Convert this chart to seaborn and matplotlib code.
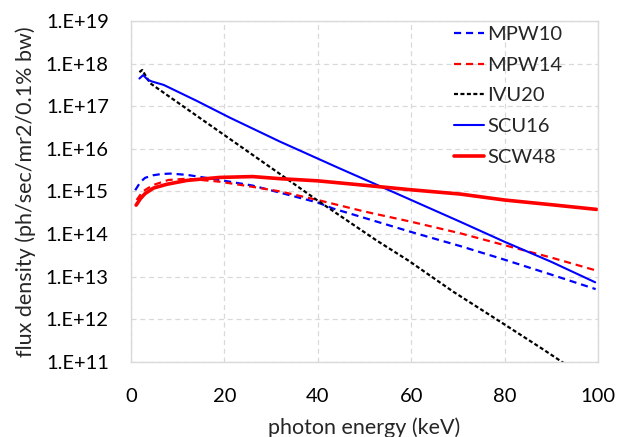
import numpy as np
import pandas as pd
import matplotlib
matplotlib.use("Agg")
import matplotlib.pyplot as plt
import seaborn as sns
from matplotlib.ticker import FixedLocator, FixedFormatter

# ---- data (log10 of flux density) ----
mpw10_e = [0.9, 2, 3, 4.7, 6.5, 8.4, 12, 19, 26, 32, 40, 43.3, 50, 60, 70.5, 80, 90, 99.5]
mpw10_log = [15.03, 15.22, 15.32, 15.38, 15.41, 15.42, 15.39, 15.27, 15.14, 14.97, 14.74, 14.60, 14.38, 14.05, 13.72, 13.40, 13.05, 12.71]

mpw14_e = [1.2, 2.5, 4.7, 8, 12, 19, 26, 32, 40, 50, 60, 70.5, 80, 90, 99.5]
mpw14_log = [14.80, 15.00, 15.15, 15.27, 15.30, 15.23, 15.11, 15.00, 14.80, 14.53, 14.29, 14.02, 13.74, 13.45, 13.15]

ivu20_e = [1.8, 2.4, 4.1, 14.8, 22.9, 31.9, 39.8, 52.6, 59.4, 69, 80, 88.2, 93]
ivu20_log = [17.80, 17.85, 17.54, 16.72, 16.10, 15.41, 14.80, 13.85, 13.38, 12.65, 11.88, 11.30, 10.95]

scu16_e = [1.8, 2.6, 3.6, 4.5, 7, 14, 21.2, 31.9, 44.5, 53, 60, 70.5, 80, 90, 99.4]
scu16_log = [17.65, 17.73, 17.62, 17.58, 17.50, 17.13, 16.73, 16.17, 15.55, 15.14, 14.80, 14.29, 13.82, 13.35, 12.87]

scw48_e = [1.1, 2, 3, 4.8, 7.7, 12, 19, 26, 32, 40, 52.5, 60, 70.5, 80, 90, 99.7]
scw48_log = [14.68, 14.83, 14.95, 15.08, 15.17, 15.26, 15.33, 15.35, 15.30, 15.25, 15.12, 15.04, 14.94, 14.80, 14.69, 14.58]

x_ticks = [0, 20, 40, 60, 80, 100]
y_tick_exps = [11, 12, 13, 14, 15, 16, 17, 18, 19]
y_tick_labels = ["1.E+11", "1.E+12", "1.E+13", "1.E+14", "1.E+15",
                 "1.E+16", "1.E+17", "1.E+18", "1.E+19"]

series = [
    ("MPW10", mpw10_e, mpw10_log, "#0000ff", 1.6, (3.2, 2.2)),
    ("MPW14", mpw14_e, mpw14_log, "#ff0000", 1.6, (3.2, 2.2)),
    ("IVU20", ivu20_e, ivu20_log, "#000000", 1.6, (1.8, 1.1)),
    ("SCU16", scu16_e, scu16_log, "#0000ff", 1.5, None),
    ("SCW48", scw48_e, scw48_log, "#ff0000", 2.6, None),
]

sns.set_theme(style="white")
plt.rcParams["font.family"] = ["Lato", "DejaVu Sans"]

fig = plt.figure(figsize=(6.2, 4.37), dpi=100)
ax = fig.add_axes([0.2113, 0.1716, 0.7532, 0.7804])

for name, e, lg, color, lw, dash in series:
    df = pd.DataFrame({"energy": e, "flux": np.power(10.0, lg)})
    sns.lineplot(data=df, x="energy", y="flux", ax=ax, color=color,
                 linewidth=lw, label=name, sort=False, estimator=None)
    line = ax.get_lines()[-1]
    if dash is not None:
        line.set_dashes(dash)

ax.set_yscale("log")
ax.set_xlim(0, 100)
ax.set_ylim(1e11, 1e19)
ax.xaxis.set_major_locator(FixedLocator(x_ticks))
ax.yaxis.set_major_locator(FixedLocator([10.0 ** k for k in y_tick_exps]))
ax.yaxis.set_major_formatter(FixedFormatter(y_tick_labels))
ax.yaxis.set_minor_locator(FixedLocator([]))

ax.grid(True, which="major", color="#d9d9d9", linestyle=(0, (4, 3)), linewidth=0.9)
for s in ax.spines.values():
    s.set_color("#d9d9d9")
    s.set_linewidth(1.0)

ax.tick_params(axis="both", which="both", length=0, labelsize=14.5, colors="#000000")
ax.tick_params(axis="y", pad=16)
ax.tick_params(axis="x", pad=19)
ax.set_xlabel("photon energy (keV)", fontsize=15.5, labelpad=9)
ax.set_ylabel("flux density (ph/sec/mr2/0.1% bw)", fontsize=15.5, labelpad=7)

leg = ax.legend(loc="upper left", bbox_to_anchor=(0.6916, 0.985), frameon=False,
                fontsize=14.5, handlelength=1.5, handletextpad=0.15,
                labelspacing=0.67, borderaxespad=0.0, borderpad=0.0)

fig.savefig("out.png", dpi=100)
